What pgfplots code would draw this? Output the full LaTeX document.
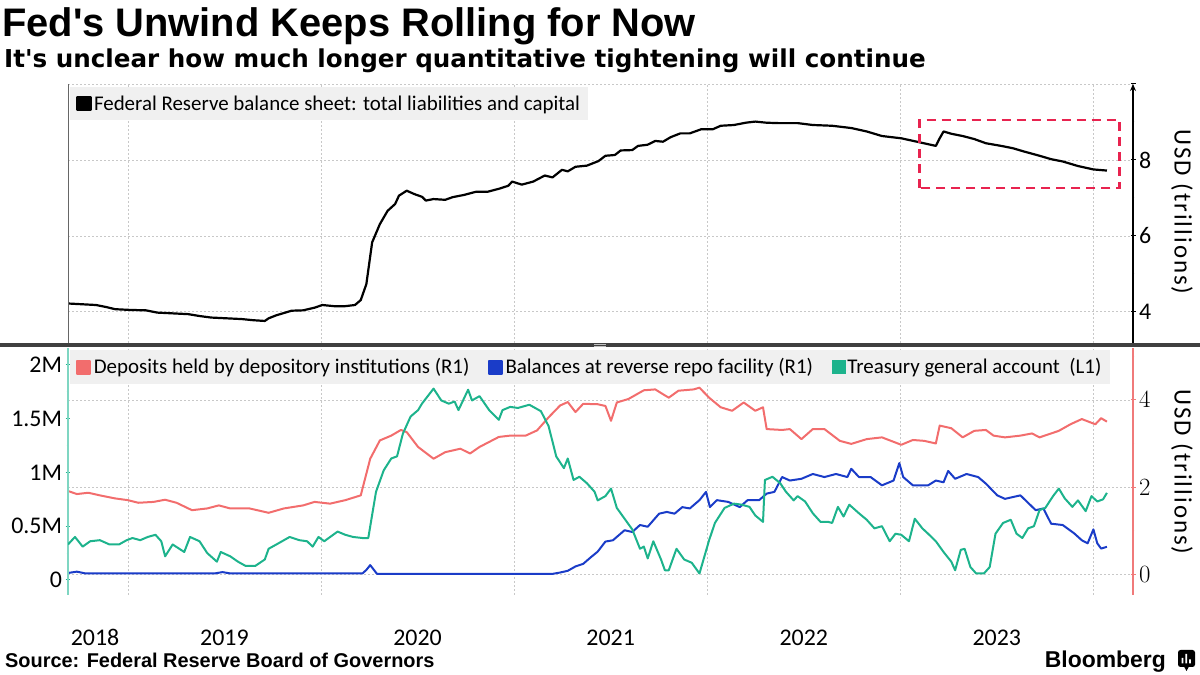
\documentclass[border=0pt]{standalone}
\usepackage{fontspec}
\setmainfont{Carlito}
\newfontfamily\headfont{Liberation Sans}
\newfontfamily\subfont{DejaVu Sans}
\newfontfamily\unitfont{Carlito}[LetterSpace=8]
\usepackage{pgfplots}
\pgfplotsset{compat=1.18}
\usetikzlibrary{arrows.meta}

\definecolor{depred}{HTML}{F26D6D}
\definecolor{rrpblue}{HTML}{1A3CC8}
\definecolor{tgagreen}{HTML}{1DB38C}
\definecolor{axpink}{HTML}{F07A7A}
\definecolor{tealline}{HTML}{7FD6C2}
\definecolor{leggray}{HTML}{F0F0F0}
\definecolor{gridgray}{HTML}{C8C8C8}
\definecolor{boxred}{HTML}{E8234F}

\pgfplotsset{
  panel/.style={
    scale only axis, width=1065bp, anchor=south west,
    xmin=2018.69, xmax=2024.205,
    tick align=outside, major tick length=5bp, minor tick length=3bp,
    grid style={gridgray, line width=0.7bp, dash pattern=on 2bp off 2bp},
    tick label style={font=\fontsize{24}{24}\selectfont},
    legend style={fill=leggray, draw=none, anchor=north west,
      font=\fontsize{21}{24}\selectfont, inner xsep=6bp, inner ysep=7bp,
      nodes={inner xsep=2.5bp, inner ysep=1.5bp}},
    legend cell align=left,
    legend image code/.code={\fill[##1] (0bp,-6.5bp) rectangle (13bp,6.5bp);},
  },
}

\begin{document}
\begin{tikzpicture}[x=1bp,y=1bp]
\useasboundingbox (0,0) rectangle (1200,675);

% top panel: total balance sheet
\begin{axis}[panel, at={(68bp,332bp)}, height=259bp,
  ymin=3.18, ymax=10,
  axis x line=bottom, axis y line=right,
  x axis line style={draw=none},
  xtick={2019,2020,2021,2022,2023,2024}, xticklabels={}, xtick style={draw=none},
  xmajorgrids,
  ytick={4,6,8,10}, yticklabels={4,6,8,{}}, minor ytick={5,7,9}, ymajorgrids,
  y axis line style={black, line width=1.2bp, -{Stealth[length=7bp,width=6bp]}},
  ytick style={black, line width=1bp},
  legend style={at={(axis description cs:0.002,0.988)}},
]
\addplot[black, line width=2.2bp, line join=round] table {
2018.690 4.22
2018.835 4.18
2018.885 4.13
2018.934 4.07
2019.014 4.05
2019.093 4.04
2019.153 3.98
2019.232 3.96
2019.312 3.94
2019.371 3.89
2019.431 3.85
2019.510 3.83
2019.590 3.81
2019.649 3.78
2019.709 3.76
2019.729 3.83
2019.769 3.91
2019.848 4.03
2019.908 4.04
2019.967 4.11
2020.007 4.18
2020.067 4.15
2020.126 4.15
2020.176 4.18
2020.206 4.31
2020.235 4.73
2020.265 5.83
2020.305 6.31
2020.345 6.66
2020.384 6.84
2020.404 7.06
2020.444 7.19
2020.484 7.10
2020.523 7.03
2020.543 6.93
2020.583 6.97
2020.643 6.95
2020.682 7.02
2020.742 7.08
2020.801 7.16
2020.861 7.16
2020.921 7.24
2020.970 7.32
2020.990 7.43
2021.040 7.35
2021.099 7.43
2021.159 7.59
2021.199 7.54
2021.248 7.74
2021.278 7.70
2021.318 7.82
2021.377 7.85
2021.437 7.97
2021.473 8.11
2021.522 8.13
2021.552 8.25
2021.612 8.26
2021.642 8.37
2021.691 8.40
2021.731 8.50
2021.771 8.48
2021.811 8.60
2021.861 8.70
2021.910 8.70
2021.970 8.81
2022.030 8.81
2022.070 8.90
2022.139 8.92
2022.199 8.98
2022.249 9.01
2022.308 8.98
2022.368 8.97
2022.468 8.97
2022.547 8.92
2022.647 8.90
2022.746 8.84
2022.826 8.75
2022.905 8.63
2023.005 8.57
2023.104 8.46
2023.184 8.37
2023.204 8.57
2023.224 8.75
2023.264 8.69
2023.323 8.63
2023.383 8.55
2023.443 8.44
2023.522 8.37
2023.582 8.31
2023.642 8.22
2023.721 8.11
2023.781 8.02
2023.841 7.96
2023.920 7.84
2024.000 7.75
2024.070 7.72
};
\addlegendentry{Federal Reserve balance sheet: total liabilities and capital}
\draw[boxred, line width=2.6bp, dash pattern=on 9bp off 6bp]
  (axis cs:2023.10,7.26) rectangle (axis cs:2024.135,9.05);
\end{axis}

% bottom panel, right axis (R1): deposits and reverse repo
\begin{axis}[panel, at={(68bp,80bp)}, height=247bp,
  ymin=-0.475, ymax=5.19,
  axis x line=bottom, axis y line=right,
  x axis line style={draw=none},
  xtick={2018.83,2019.5,2020.5,2021.5,2022.5,2023.5},
  xticklabels={2018,2019,2020,2021,2022,2023},
  xtick style={draw=none},
  xticklabel style={anchor=center, yshift=-40bp},
  extra x ticks={2019,2020,2021,2022,2023,2024}, extra x tick labels={},
  extra x tick style={grid=major},
  ytick={0,2,4}, minor ytick={1,3,5}, ymajorgrids,
  y axis line style={axpink, line width=1.2bp, -},
  ytick style={axpink, line width=1bp},
  legend columns=-1,
  legend style={at={(axis description cs:0.002,0.992)}},
]
\addplot[depred, line width=2bp, line join=round] table {
2018.690 1.91
2018.736 1.84
2018.795 1.87
2018.855 1.81
2018.934 1.74
2019.000 1.70
2019.054 1.64
2019.133 1.66
2019.193 1.71
2019.252 1.64
2019.332 1.47
2019.411 1.51
2019.471 1.58
2019.530 1.51
2019.630 1.51
2019.729 1.41
2019.808 1.51
2019.908 1.58
2019.967 1.66
2020.047 1.62
2020.126 1.70
2020.206 1.81
2020.255 2.65
2020.305 3.07
2020.364 3.18
2020.414 3.31
2020.444 3.26
2020.503 2.92
2020.583 2.65
2020.643 2.80
2020.722 2.88
2020.772 2.77
2020.821 2.92
2020.921 3.15
2020.980 3.18
2021.060 3.18
2021.119 3.30
2021.179 3.60
2021.238 3.87
2021.278 3.95
2021.318 3.72
2021.358 3.91
2021.433 3.90
2021.473 3.86
2021.502 3.52
2021.532 3.94
2021.592 4.02
2021.672 4.22
2021.731 4.24
2021.771 4.13
2021.801 4.05
2021.851 4.21
2021.930 4.24
2021.960 4.28
2022.010 4.05
2022.070 3.83
2022.129 3.75
2022.189 3.94
2022.249 3.75
2022.289 3.83
2022.308 3.33
2022.388 3.31
2022.428 3.33
2022.488 3.10
2022.547 3.33
2022.607 3.33
2022.687 3.06
2022.746 2.99
2022.826 3.10
2022.905 3.14
2023.005 2.97
2023.065 3.08
2023.124 3.06
2023.184 3.00
2023.204 3.41
2023.264 3.35
2023.323 3.14
2023.383 3.29
2023.443 3.31
2023.483 3.18
2023.542 3.14
2023.622 3.18
2023.682 3.23
2023.721 3.14
2023.821 3.29
2023.881 3.44
2023.940 3.56
2024.010 3.44
2024.040 3.58
2024.070 3.50
};
\addlegendentry{Deposits held by depository institutions (R1)\hspace*{16bp}\mbox{}}
\addplot[rrpblue, line width=2bp, line join=round] table {
2018.690 0.03
2018.736 0.06
2018.780 0.02
2019.450 0.02
2019.490 0.05
2019.530 0.02
2020.215 0.02
2020.235 0.10
2020.255 0.21
2020.290 0.01
2021.200 0.01
2021.238 0.04
2021.278 0.08
2021.318 0.18
2021.358 0.24
2021.400 0.40
2021.433 0.52
2021.473 0.75
2021.512 0.78
2021.572 1.01
2021.612 0.97
2021.652 1.13
2021.692 1.09
2021.751 1.39
2021.791 1.43
2021.831 1.39
2021.871 1.54
2021.910 1.51
2021.960 1.70
2021.994 1.89
2022.014 1.54
2022.050 1.70
2022.109 1.66
2022.169 1.54
2022.209 1.70
2022.269 1.70
2022.308 1.85
2022.348 1.89
2022.388 2.23
2022.428 2.15
2022.488 2.19
2022.547 2.30
2022.607 2.23
2022.667 2.30
2022.726 2.23
2022.746 2.42
2022.786 2.23
2022.846 2.23
2022.905 2.04
2022.965 2.15
2022.995 2.55
2023.015 2.23
2023.065 2.04
2023.144 2.04
2023.184 2.15
2023.224 2.11
2023.248 2.37
2023.284 2.19
2023.343 2.30
2023.403 2.23
2023.443 2.08
2023.502 1.81
2023.542 1.73
2023.622 1.81
2023.701 1.47
2023.741 1.51
2023.781 1.16
2023.841 1.13
2023.900 0.94
2023.940 0.78
2023.970 0.71
2024.000 1.03
2024.020 0.71
2024.040 0.59
2024.070 0.63
};
\addlegendentry{Balances at reverse repo facility (R1)\hspace*{16bp}\mbox{}}
\addlegendimage{color=tgagreen}
\addlegendentry{Treasury general account\ \ (L1)}
\end{axis}

% bottom panel, left axis (L1): Treasury general account
\begin{axis}[panel, at={(68bp,80bp)}, height=247bp,
  ymin=-0.14, ymax=2.158,
  axis x line=bottom, axis y line=left,
  x axis line style={draw=none}, xtick=\empty,
  ytick={0,0.5,1,1.5,2}, yticklabels={0,0.5M,1M,1.5M,2M},
  minor ytick={0.25,0.75,1.25,1.75},
  y axis line style={tealline, line width=1.2bp, -},
  ytick style={tgagreen, line width=1bp},
]
\addplot[tgagreen, line width=2bp, line join=round] table {
2018.690 0.33
2018.726 0.40
2018.766 0.31
2018.805 0.36
2018.855 0.37
2018.905 0.33
2018.954 0.33
2018.994 0.37
2019.024 0.39
2019.064 0.37
2019.103 0.40
2019.143 0.42
2019.173 0.36
2019.193 0.22
2019.232 0.33
2019.292 0.26
2019.322 0.40
2019.371 0.36
2019.411 0.25
2019.461 0.17
2019.481 0.26
2019.530 0.22
2019.570 0.17
2019.610 0.13
2019.659 0.13
2019.709 0.19
2019.729 0.29
2019.769 0.33
2019.838 0.40
2019.888 0.37
2019.928 0.36
2019.957 0.31
2019.987 0.40
2020.017 0.36
2020.086 0.45
2020.126 0.42
2020.166 0.40
2020.215 0.39
2020.245 0.39
2020.285 0.82
2020.325 1.02
2020.364 1.13
2020.394 1.15
2020.424 1.36
2020.464 1.52
2020.503 1.58
2020.523 1.64
2020.583 1.78
2020.623 1.67
2020.662 1.64
2020.692 1.66
2020.712 1.58
2020.762 1.77
2020.782 1.67
2020.821 1.71
2020.871 1.58
2020.921 1.49
2020.940 1.58
2020.980 1.61
2021.020 1.60
2021.079 1.63
2021.109 1.60
2021.139 1.57
2021.179 1.43
2021.218 1.15
2021.258 1.04
2021.278 1.13
2021.308 0.93
2021.338 0.96
2021.377 0.90
2021.417 0.82
2021.433 0.74
2021.473 0.78
2021.502 0.85
2021.532 0.67
2021.572 0.57
2021.612 0.47
2021.652 0.29
2021.672 0.31
2021.692 0.20
2021.721 0.36
2021.761 0.19
2021.781 0.09
2021.801 0.09
2021.841 0.29
2021.881 0.19
2021.920 0.16
2021.960 0.06
2022.010 0.37
2022.040 0.53
2022.090 0.67
2022.139 0.71
2022.179 0.70
2022.219 0.68
2022.249 0.60
2022.289 0.54
2022.299 0.93
2022.338 0.96
2022.378 0.90
2022.408 0.82
2022.448 0.74
2022.468 0.78
2022.507 0.73
2022.547 0.62
2022.587 0.54
2022.627 0.54
2022.647 0.53
2022.677 0.68
2022.706 0.59
2022.736 0.70
2022.786 0.62
2022.826 0.56
2022.866 0.48
2022.905 0.50
2022.945 0.36
2022.975 0.43
2023.005 0.42
2023.045 0.36
2023.075 0.57
2023.114 0.48
2023.144 0.43
2023.184 0.36
2023.224 0.26
2023.264 0.17
2023.284 0.09
2023.313 0.28
2023.333 0.29
2023.363 0.12
2023.393 0.06
2023.433 0.06
2023.463 0.12
2023.493 0.43
2023.532 0.53
2023.572 0.56
2023.602 0.43
2023.632 0.39
2023.662 0.48
2023.692 0.50
2023.721 0.65
2023.751 0.67
2023.791 0.78
2023.821 0.85
2023.851 0.76
2023.891 0.68
2023.920 0.74
2023.960 0.64
2023.990 0.78
2024.020 0.73
2024.050 0.75
2024.070 0.81
};
\end{axis}

% panel frame pieces
\draw[black!60, line width=1bp] (68,332) -- (68,591);
\fill[black!75] (0,327.5) rectangle (1200,332);
\draw[black!25, line width=0.6bp] (594,330.6) -- (606,330.6) (594,328.9) -- (606,328.9);

% axis unit labels
\node[rotate=-90, font=\unitfont\fontsize{25}{25}\selectfont] at (1182,463) {USD (trillions)};
\node[rotate=-90, font=\unitfont\fontsize{25}{25}\selectfont] at (1182,203) {USD (trillions)};

% titles and footer
\node[anchor=base west, inner sep=0pt, font=\headfont\bfseries\fontsize{40}{40}\selectfont] at (2,638) {Fed's Unwind Keeps Rolling for Now};
\node[anchor=base west, inner sep=0pt, font=\subfont\bfseries\fontsize{24.7}{26}\selectfont] at (4,607) {It's unclear how much longer quantitative tightening will continue};
\node[anchor=base west, inner sep=0pt, font=\headfont\bfseries\fontsize{20}{22}\selectfont] at (5,7) {Source: Federal Reserve Board of Governors};
\node[anchor=base east, inner sep=0pt, font=\headfont\bfseries\fontsize{23}{24}\selectfont] at (1166,7) {Bloomberg};
\fill[black, rounded corners=2.5bp] (1178,8) rectangle (1195,25);
\fill[black] (1184,8.5) -- (1186.5,4) -- (1189,8.5) -- cycle;
\fill[white] (1181.5,11.5) rectangle (1183.3,17) (1185.3,11.5) rectangle (1187.1,21) (1189.1,11.5) rectangle (1190.9,15.5);
\end{tikzpicture}
\end{document}
